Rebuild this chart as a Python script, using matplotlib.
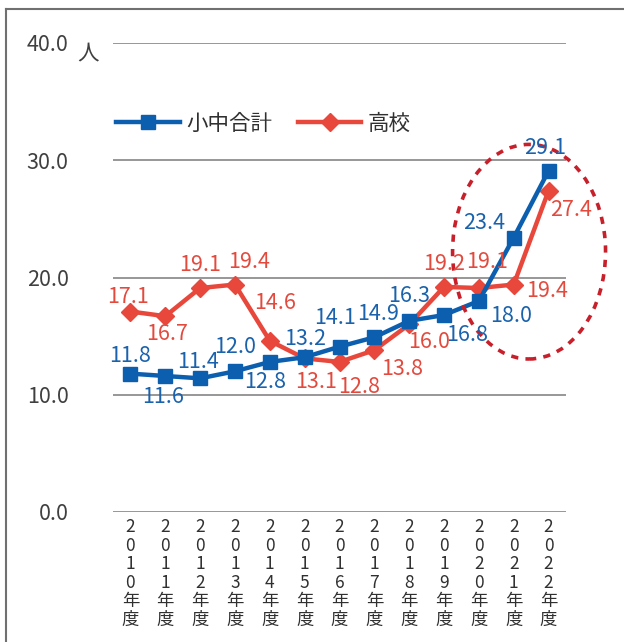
import matplotlib
matplotlib.use("Agg")
import matplotlib.pyplot as plt
from matplotlib.patches import Ellipse
from matplotlib.lines import Line2D

plt.rcParams['font.family'] = ['Noto Sans CJK JP', 'DejaVu Sans']

years = ['2010', '2011', '2012', '2013', '2014', '2015', '2016',
         '2017', '2018', '2019', '2020', '2021', '2022']
elem_mid = [11.8, 11.6, 11.4, 12.0, 12.8, 13.2, 14.1, 14.9, 16.3, 16.8, 18.0, 23.4, 29.1]
high = [17.1, 16.7, 19.1, 19.4, 14.6, 13.1, 12.8, 13.8, 16.0, 19.2, 19.1, 19.4, 27.4]
series_names = ['小中合計', '高校']
yticks = [0, 10, 20, 30, 40]
year_suffix = ['年', '度']

# label offsets in pixels (dx, dy)
blue_off = [(0, 18), (-2, -21), (-2, 16), (0, 24), (-5, -20), (0, 18), (-5, 29),
            (4, 23), (0, 25), (23, -20), (32, -15), (-30, 15), (-3, 23)]
red_off = [(-2, 15), (2, -18), (0, 23), (14, 23), (5, 38), (11, -24), (20, -25),
           (28, -19), (20, -18), (0, 23), (8, 26), (33, -6), (22, -19)]

BLUE = '#0c5fae'
RED = '#e8473b'
BLUE_T = '#1a62ac'
RED_T = '#e34a3e'
FS = 15.5

fig = plt.figure(figsize=(6.24, 6.42), dpi=100)
ax = fig.add_axes([113/624, 1 - 512/642, 453/624, (512 - 43)/642])

x = list(range(len(years)))
lb, = ax.plot(x, elem_mid, color=BLUE, lw=3.2, marker='s', ms=10, zorder=4,
              label=series_names[0])
lr, = ax.plot(x, high, color=RED, lw=3.2, marker='D', ms=9, zorder=3,
              label=series_names[1])

for i, v in enumerate(elem_mid):
    ax.annotate(f'{v:.1f}', (i, v), xytext=blue_off[i], textcoords='offset pixels',
                ha='center', va='center', color=BLUE_T, fontsize=FS, zorder=6)
for i, v in enumerate(high):
    ax.annotate(f'{v:.1f}', (i, v), xytext=red_off[i], textcoords='offset pixels',
                ha='center', va='center', color=RED_T, fontsize=FS, zorder=6)

ax.set_xlim(-0.5, len(years) - 0.5)
ax.set_ylim(0, 40)
ax.set_yticks(yticks)
ax.set_yticklabels([f'{t:.1f}' for t in yticks], color='#404040', fontsize=FS)
ax.set_xticks(x)
ax.set_xticklabels([''] * len(years))
# vertical (stacked) category labels, one character per line
for i, y in enumerate(years):
    for j, ch in enumerate(list(y) + year_suffix):
        ax.annotate(ch, xy=(i, 0), xycoords=('data', 'axes fraction'),
                    xytext=(0, -15 - 18.6 * j), textcoords='offset pixels',
                    ha='center', va='center', fontsize=12.5, color='#303030',
                    annotation_clip=False)
ax.tick_params(axis='y', length=0, pad=32)
ax.tick_params(axis='x', length=0)
ax.yaxis.grid(True, color='#7a7a7a', lw=1.1)
ax.set_axisbelow(True)
for s in ax.spines.values():
    s.set_visible(False)

ell = Ellipse((11.44, 22.2), 4.39, 18.3, fill=False, ec='#c8202a', lw=2.6,
              ls=(0, (2.0, 2.0)), zorder=5, clip_on=False)
ax.add_patch(ell)

fig.text(88/624, 1 - 53/642, '人', fontsize=FS, color='#404040', ha='center', va='center')

ax.legend(handles=[lb, lr], ncol=2, frameon=False, loc='center left',
          bbox_to_anchor=(116/624, 1 - 124/642), bbox_transform=fig.transFigure,
          borderaxespad=0, borderpad=0, handlelength=2.95, handletextpad=0.3,
          columnspacing=1.2, fontsize=FS, labelcolor='#303030')

fig.add_artist(Line2D([6/624, 6/624], [0, 1 - 9/642], color='#707070', lw=1.5,
                      transform=fig.transFigure))
fig.add_artist(Line2D([6/624, 1], [1 - 9/642, 1 - 9/642], color='#707070', lw=1.5,
                      transform=fig.transFigure))

fig.savefig('out.png', dpi=100)
